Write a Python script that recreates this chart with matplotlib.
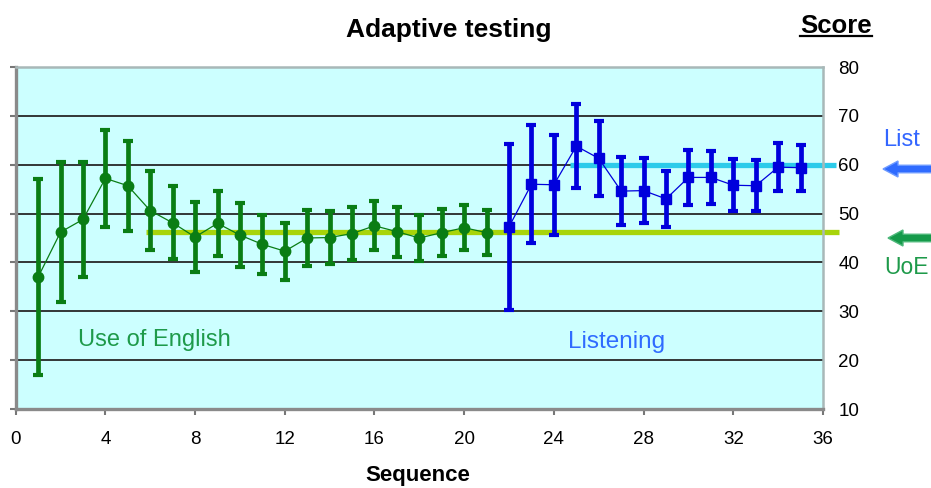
import matplotlib
matplotlib.use("Agg")
import matplotlib.pyplot as plt
from matplotlib.patches import FancyArrow
from matplotlib.lines import Line2D

plt.rcParams['font.family'] = ['Liberation Sans', 'DejaVu Sans']

# Use of English section (items 1-21)
uoe_seq = list(range(1, 22))
uoe_score = [37.0, 46.2, 48.8, 57.2, 55.7, 50.6, 48.1, 45.2, 48.0, 45.6, 43.7,
             42.3, 45.0, 45.1, 45.9, 47.5, 46.3, 45.0, 46.1, 47.1, 46.1]
uoe_err = [20.0, 14.3, 11.8, 10.0, 9.2, 8.1, 7.5, 7.1, 6.7, 6.5, 6.1,
           5.8, 5.8, 5.5, 5.5, 5.0, 5.1, 4.8, 4.8, 4.6, 4.6]

# Listening section (items 22-35)
lis_seq = list(range(22, 36))
lis_score = [47.3, 56.0, 55.9, 63.8, 61.3, 54.6, 54.7, 53.0, 57.4, 57.4,
             55.8, 55.7, 59.5, 59.4]
lis_err = [17.0, 12.1, 10.2, 8.6, 7.7, 7.0, 6.6, 5.7, 5.7, 5.5,
           5.3, 5.2, 4.9, 4.7]

# Final section scores
uoe_level = 46.2
uoe_span = [5.8, 36.7]
lis_level = 60.0
lis_span = [24.7, 36.6]

x_ticks = list(range(0, 37, 4))
y_ticks = list(range(10, 81, 10))

W, H = 931, 488
fig = plt.figure(figsize=(W / 100, H / 100), dpi=100)
ax = fig.add_axes([15.7 / W, 1 - 409 / H, (823 - 15.7) / W, (409 - 67) / H])
ax.set_facecolor('#CCFFFF')
ax.set_xlim(0, 36)
ax.set_ylim(10, 80)

for v in y_ticks[1:-1]:
    ax.axhline(v, color='#262626', lw=1.3, zorder=1)

green = '#0A7D14'
blue = '#0000DC'

ax.plot([uoe_span[0], uoe_span[1]], [uoe_level, uoe_level], color='#A8D40A',
        lw=3.8, zorder=2, clip_on=False, solid_capstyle='butt')
ax.plot([lis_span[0], lis_span[1]], [lis_level, lis_level], color='#2CCBEA',
        lw=3.8, zorder=2, clip_on=False, solid_capstyle='butt')

ax.errorbar(uoe_seq, uoe_score, yerr=uoe_err, color=green, lw=0.9,
            marker='o', ms=7.5, elinewidth=3.4, capsize=3.5, capthick=3.0, zorder=3)
ax.errorbar(lis_seq, lis_score, yerr=lis_err, color=blue, lw=0.9,
            marker='s', ms=7.0, elinewidth=3.4, capsize=3.5, capthick=3.0, zorder=3)

ax.set_xticks(x_ticks)
ax.set_yticks(y_ticks)
ax.tick_params(axis='x', direction='out', length=4, width=1.5, color='#777777',
               labelsize=13.5, pad=12)
ax.tick_params(axis='y', direction='out', length=4, width=1.5, color='#777777',
               left=True, right=False, labelleft=False, labelright=True,
               labelsize=13.5, pad=7)

for side in ('top', 'right'):
    ax.spines[side].set_color('#A8B8B8')
    ax.spines[side].set_linewidth(1.8)
for side in ('left', 'bottom'):
    ax.spines[side].set_color('#8A8A8A')
    ax.spines[side].set_linewidth(2.4)

ax.text(6.2, 24.2, 'Use of English', color='#1E9A4A', fontsize=17,
        ha='center', va='center')
ax.text(26.8, 23.8, 'Listening', color='#2F6BFF', fontsize=17.5,
        ha='center', va='center')

fig.text(449 / W, 1 - 30 / H, 'Adaptive testing', fontsize=19,
         fontweight='bold', ha='center', va='center')
fig.text(418 / W, 1 - 475 / H, 'Sequence', fontsize=16,
         fontweight='bold', ha='center', va='center')
score = fig.text(836 / W, 1 - 33 / H, 'Score', fontsize=18.5,
                 fontweight='bold', ha='center', va='baseline')

fig.text(902 / W, 1 - 140 / H, 'List', color='#3366FF', fontsize=17,
         ha='center', va='center')
fig.text(907 / W, 1 - 267 / H, 'UoE', color='#1E9A4A', fontsize=16.5,
         ha='center', va='center')

arrow_kw = dict(width=0.075, head_width=0.16, head_length=0.15,
                length_includes_head=True, transform=fig.dpi_scale_trans)
fig.patches.append(FancyArrow(9.36, (H - 169) / 100, -0.53, 0,
                              facecolor='#2F6BFF', edgecolor='#6E9BFF', lw=1,
                              **arrow_kw))
fig.patches.append(FancyArrow(9.36, (H - 238) / 100, -0.48, 0,
                              facecolor='#159A4A', edgecolor='#4DB87A', lw=1,
                              **arrow_kw))

# underline under the "Score" heading
renderer = fig.canvas.get_renderer()
bb = score.get_window_extent(renderer)
y_ul = (H - 36) / H
fig.lines.append(Line2D([bb.x0 / W, bb.x1 / W], [y_ul, y_ul], color='black',
                        lw=1.6, transform=fig.transFigure))

fig.savefig('out.png', dpi=100)
